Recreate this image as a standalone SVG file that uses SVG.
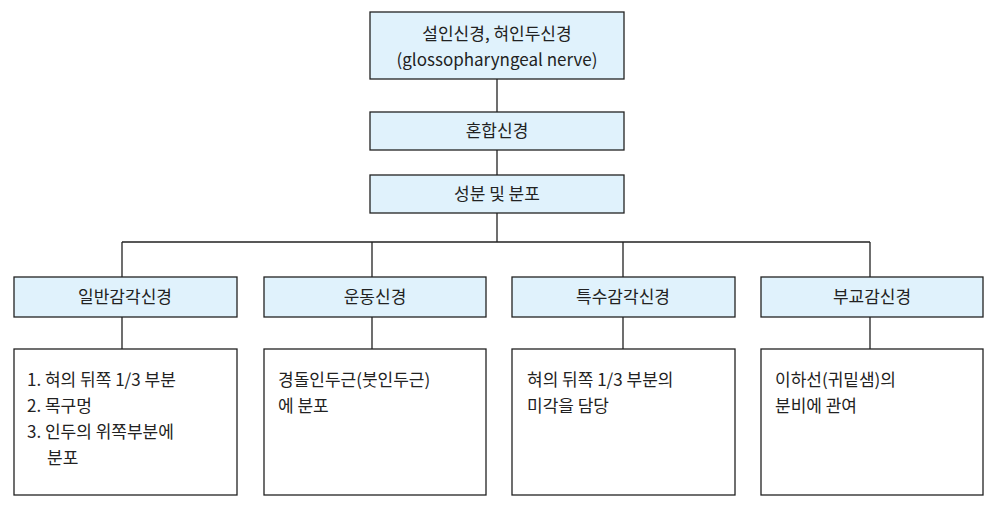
<svg xmlns="http://www.w3.org/2000/svg" width="998" height="508" viewBox="0 0 998 508">
<style>
.h{fill:#e0f2fc;stroke:#222;stroke-width:1.3}
.b{fill:#fff;stroke:#222;stroke-width:1.3}
text{font-family:"Noto Sans CJK KR","Noto Sans",sans-serif;font-size:17px;fill:#222}
.c{text-anchor:middle}
.l{fill:none;stroke:#222;stroke-width:1.3}
</style>
<rect width="998" height="508" fill="#fff"/>
<g id="connectors">
<path class="l" d="M497 79V112M497 150V175M497 213V242M122 242H870M122 242V277M372 242V277M623 242V277M870 242V277M122 317V349M372 317V349M623 317V349M870 317V349"/>
</g>
<g id="n1"><rect class="h" x="370" y="12" width="254" height="67"/><text class="c" x="497" y="40">설인신경, 혀인두신경</text><text class="c" x="497" y="66">(glossopharyngeal nerve)</text></g>
<g id="n2"><rect class="h" x="370" y="112" width="254" height="38"/><text class="c" x="497" y="137">혼합신경</text></g>
<g id="n3"><rect class="h" x="370" y="175" width="254" height="38"/><text class="c" x="497" y="200">성분 및 분포</text></g>
<g id="h1"><rect class="h" x="14" y="277" width="223" height="40"/><text class="c" x="125" y="303">일반감각신경</text></g>
<g id="h2"><rect class="h" x="264" y="277" width="222" height="40"/><text class="c" x="375" y="303">운동신경</text></g>
<g id="h3"><rect class="h" x="512" y="277" width="223" height="40"/><text class="c" x="623" y="303">특수감각신경</text></g>
<g id="h4"><rect class="h" x="761" y="277" width="222" height="40"/><text class="c" x="872" y="303">부교감신경</text></g>
<g id="d1"><rect class="b" x="14" y="349" width="223" height="146"/><text x="27" y="386">1. 혀의 뒤쪽 1/3 부분</text><text x="27" y="412">2. 목구멍</text><text x="27" y="438">3. 인두의 위쪽부분에</text><text x="47" y="464">분포</text></g>
<g id="d2"><rect class="b" x="264" y="349" width="222" height="146"/><text x="278" y="386">경돌인두근(붓인두근)</text><text x="278" y="412">에 분포</text></g>
<g id="d3"><rect class="b" x="512" y="349" width="223" height="146"/><text x="527" y="386">혀의 뒤쪽 1/3 부분의</text><text x="527" y="412">미각을 담당</text></g>
<g id="d4"><rect class="b" x="761" y="349" width="222" height="146"/><text x="775" y="386">이하선(귀밑샘)의</text><text x="775" y="412">분비에 관여</text></g>
</svg>
